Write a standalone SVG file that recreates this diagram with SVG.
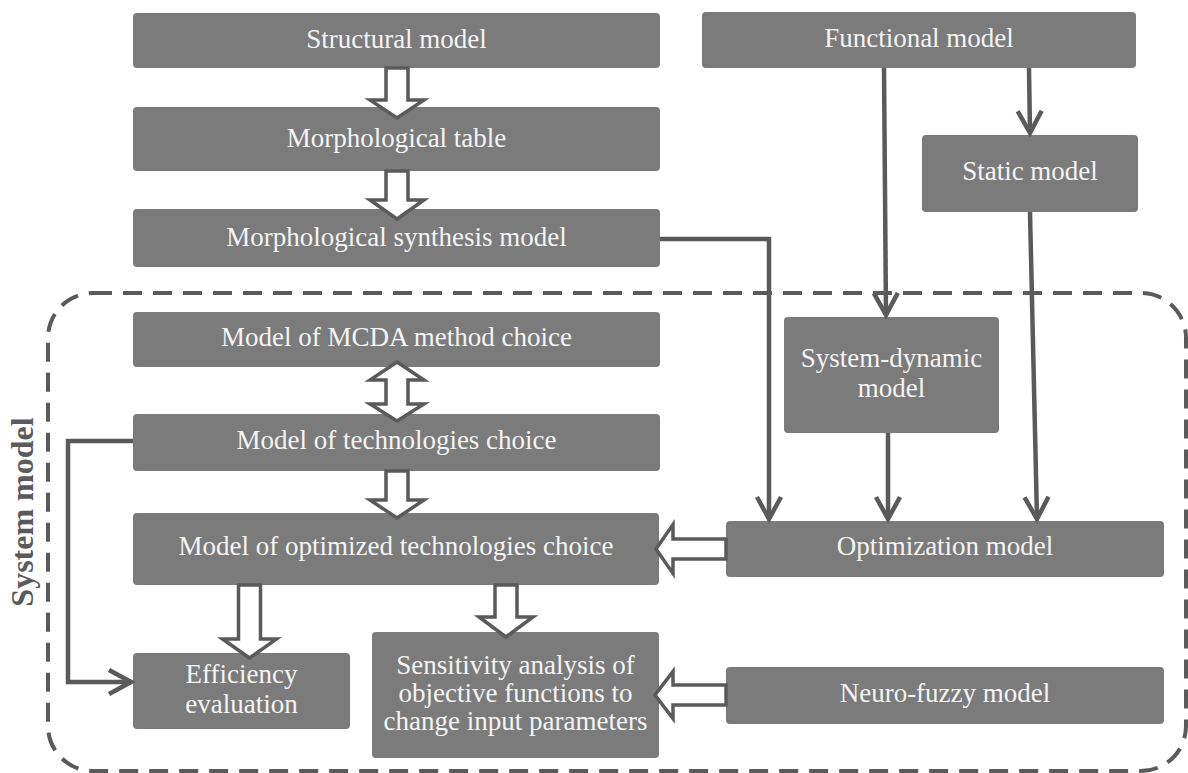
<svg xmlns="http://www.w3.org/2000/svg" width="1188" height="773" viewBox="0 0 1188 773">
<style>
.box{fill:#7b7b7b;}
.t{font-family:"Liberation Serif","Times New Roman",serif;font-size:27px;fill:#f4f4f4;text-anchor:middle;}
.ln{fill:none;stroke:#5a5a5a;stroke-width:4.5;stroke-linejoin:miter;}
.ha{fill:#ffffff;stroke:#5a5a5a;stroke-width:3.5;stroke-linejoin:miter;}
.lbl{font-family:"Liberation Serif","Times New Roman",serif;font-size:32px;font-weight:bold;fill:#5a5a5a;text-anchor:middle;}
</style>
<defs>
<marker id="ah" markerUnits="userSpaceOnUse" markerWidth="30" markerHeight="30" viewBox="-26 -15 30 30" refX="0" refY="0" orient="auto">
<path d="M-22,-12 L0,0 L-22,12" fill="none" stroke="#5a5a5a" stroke-width="4.5"/>
</marker>
</defs>
<rect width="1188" height="773" fill="#ffffff"/>
<rect id="system-border" x="48" y="293" width="1138" height="478" rx="45" ry="45" fill="none" stroke="#5a5a5a" stroke-width="4" stroke-dasharray="19 11"/>
<text class="lbl" x="33" y="512" transform="rotate(-90 33 512)">System model</text>

<g id="structural"><rect class="box" x="133" y="13" width="527" height="55" rx="4"/><text class="t" x="396.5" y="48">Structural model</text></g>
<g id="morph-table"><rect class="box" x="133" y="107" width="527" height="64" rx="4"/><text class="t" x="396.5" y="147">Morphological table</text></g>
<g id="morph-synthesis"><rect class="box" x="133" y="209" width="527" height="58" rx="4"/><text class="t" x="396.5" y="246">Morphological synthesis model</text></g>
<g id="functional"><rect class="box" x="702" y="12" width="434" height="56" rx="4"/><text class="t" x="919" y="47">Functional model</text></g>
<g id="static"><rect class="box" x="922" y="135" width="216" height="77" rx="4"/><text class="t" x="1030" y="180">Static model</text></g>
<g id="mcda"><rect class="box" x="133" y="312" width="527" height="55" rx="4"/><text class="t" x="396.5" y="346">Model of MCDA method choice</text></g>
<g id="tech"><rect class="box" x="133" y="414" width="527" height="57" rx="4"/><text class="t" x="396.5" y="449">Model of technologies choice</text></g>
<g id="system-dynamic"><rect class="box" x="784" y="317" width="215" height="116" rx="4"/><text class="t" x="891.5" y="367">System-dynamic</text><text class="t" x="891.5" y="397">model</text></g>
<g id="optimized"><rect class="box" x="133" y="513" width="526" height="72" rx="4"/><text class="t" x="396" y="555">Model of optimized technologies choice</text></g>
<g id="optimization"><rect class="box" x="726" y="521" width="438" height="56" rx="4"/><text class="t" x="945" y="555">Optimization model</text></g>
<g id="efficiency"><rect class="box" x="133" y="653" width="217" height="76" rx="4"/><text class="t" x="241.5" y="683">Efficiency</text><text class="t" x="241.5" y="713">evaluation</text></g>
<g id="sensitivity"><rect class="box" x="372" y="632" width="287" height="126" rx="4"/><text class="t" x="515.5" y="674">Sensitivity analysis of</text><text class="t" x="515.5" y="702">objective functions to</text><text class="t" x="515.5" y="730">change input parameters</text></g>
<g id="neuro-fuzzy"><rect class="box" x="726" y="667" width="438" height="57" rx="4"/><text class="t" x="945" y="702">Neuro-fuzzy model</text></g>

<g id="connectors">
<path class="ln" d="M884,68 L886,315" marker-end="url(#ah)"/>
<path class="ln" d="M1029,68 L1030,133" marker-end="url(#ah)"/>
<path class="ln" d="M1030,212 L1037,519" marker-end="url(#ah)"/>
<path class="ln" d="M660,239 L769,239 L769,519" marker-end="url(#ah)"/>
<path class="ln" d="M888,433 L888,519" marker-end="url(#ah)"/>
<path class="ln" d="M133,441 L68,441 L68,682 L131,682" marker-end="url(#ah)"/>
<path class="ha" d="M386,68 L408,68 L408,100 L424,100 L397,118 L370,100 L386,100 Z"/>
<path class="ha" d="M386,171 L408,171 L408,200 L424,200 L397,219 L370,200 L386,200 Z"/>
<path class="ha" d="M397,362 L424,380 L408,380 L408,404 L424,404 L397,421 L370,404 L386,404 L386,380 L370,380 Z"/>
<path class="ha" d="M386,471 L408,471 L408,500 L424,500 L397,518 L370,500 L386,500 Z"/>
<path class="ha" d="M238.5,585 L260.5,585 L260.5,639 L276.5,639 L249.5,658 L222.5,639 L238.5,639 Z"/>
<path class="ha" d="M495,585 L517,585 L517,617 L533,617 L506,637 L479,617 L495,617 Z"/>
<path class="ha" d="M726,539 L673,539 L673,524.5 L656,549 L673,573.5 L673,559 L726,559 Z"/>
<path class="ha" d="M726,685 L673,685 L673,671.5 L655,695 L673,718.5 L673,705 L726,705 Z"/>
</g>
</svg>
